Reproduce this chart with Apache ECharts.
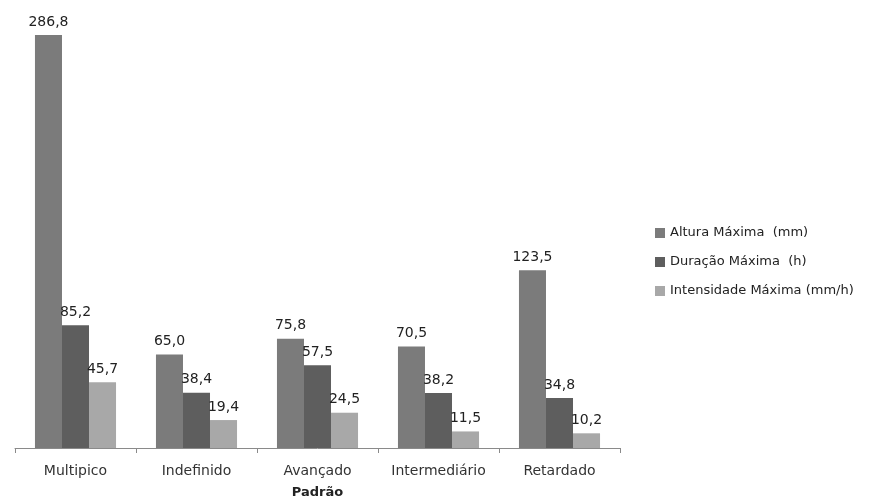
<!DOCTYPE html>
<html>
<head>
<meta charset="utf-8">
<title>Padrão</title>
<script src="https://cdn.jsdelivr.net/npm/echarts@6/dist/echarts.min.js"></script>
<style>
  html, body { margin: 0; padding: 0; background: #ffffff; }
  #chart { width: 877px; height: 501px; }
</style>
</head>
<body>
<div id="chart"></div>
<script>
// Storm pattern categories and the three measured maxima
const categories = ['Multipico', 'Indefinido', 'Avançado', 'Intermediário', 'Retardado'];
const seriesNames = ['Altura Máxima  (mm)', 'Duração Máxima  (h)', 'Intensidade Máxima (mm/h)'];
const alturaMaxima = [286.8, 65.0, 75.8, 70.5, 123.5];
const duracaoMaxima = [85.2, 38.4, 57.5, 38.2, 34.8];
const intensidadeMaxima = [45.7, 19.4, 24.5, 11.5, 10.2];
const seriesColors = ['#7b7b7b', '#5e5e5e', '#a8a8a8'];

const font = 'DejaVu Sans, Verdana, sans-serif';

function fmt(v) {
  return v.toFixed(1).replace('.', ',');
}

const chart = echarts.init(document.getElementById('chart'), null, { renderer: 'canvas' });

const values = [alturaMaxima, duracaoMaxima, intensidadeMaxima];

chart.setOption({
  animation: false,
  backgroundColor: '#ffffff',
  grid: { left: 15, right: 257, top: 16, bottom: 53, containLabel: false, outerBoundsMode: 'none' },
  legend: {
    orient: 'vertical',
    left: 650,
    top: 221,
    itemWidth: 10,
    itemHeight: 10,
    itemGap: 15,
    icon: 'rect',
    textStyle: { fontFamily: font, fontSize: 13, color: '#222', lineHeight: 14 },
    data: seriesNames
  },
  xAxis: {
    type: 'category',
    data: categories,
    name: 'Padrão',
    nameLocation: 'middle',
    nameGap: 38,
    nameTextStyle: { fontFamily: font, fontSize: 13, fontWeight: 'bold', color: '#222' },
    axisLine: { lineStyle: { color: '#8a8a8a', width: 1 } },
    axisTick: { show: true, interval: 0, alignWithLabel: false, length: 5, lineStyle: { color: '#8a8a8a' } },
    axisLabel: { interval: 0, fontFamily: font, fontSize: 14, color: '#333', margin: 16 }
  },
  yAxis: {
    type: 'value',
    min: 0,
    max: 300,
    show: false,
    splitLine: { show: false }
  },
  series: values.map((arr, i) => ({
    name: seriesNames[i],
    type: 'bar',
    data: arr,
    barGap: '0%',
    barCategoryGap: '33%',
    itemStyle: { color: seriesColors[i] },
    label: {
      show: true,
      position: 'top',
      distance: 6,
      fontFamily: font,
      fontSize: 14,
      color: '#222',
      formatter: p => fmt(p.value)
    }
  }))
});
</script>
</body>
</html>
